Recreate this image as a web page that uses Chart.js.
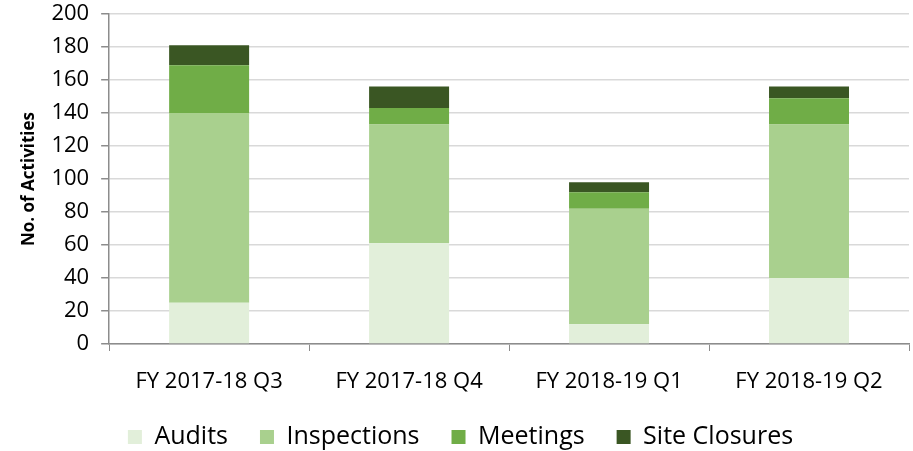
<!DOCTYPE html>
<html>
<head>
<meta charset="utf-8">
<script src="https://cdn.jsdelivr.net/npm/chart.js@4"></script>
<style>
  html, body { margin: 0; padding: 0; background: #fff; }
  #wrap { width: 913px; height: 451px; }
</style>
</head>
<body>
<div id="wrap"><canvas id="chart" width="913" height="451"></canvas></div>
<script>
// Quarters on the x axis
const quarters = ['FY 2017-18 Q3', 'FY 2017-18 Q4', 'FY 2018-19 Q1', 'FY 2018-19 Q2'];

// Stacked series (number of activities)
const audits = [25, 61, 12, 40];
const inspections = [115, 72, 70, 93];
const meetings = [29, 10, 10, 16];
const siteClosures = [12, 13, 6, 7];

// Y axis
const yMax = 200;
const yStep = 20;

const FONT = '"Open Sans", Lato, sans-serif';
const LEGEND_PAD = 32;
const LEGEND_HEIGHT = 58.5;
const X_AXIS_HEIGHT = 48.5;

// Fix the legend box height so it sits lower, like the original
const legendFit = {
    id: 'legendFit',
    beforeInit(chart) {
        const origFit = chart.legend.fit;
        chart.legend.fit = function () {
            origFit.call(this);
            this.height = LEGEND_HEIGHT;
        };
    }
};

const ctx = document.getElementById('chart').getContext('2d');

new Chart(ctx, {
    type: 'bar',
    data: {
        labels: quarters,
        datasets: [
            { label: 'Audits', data: audits, backgroundColor: '#e2efda' },
            { label: 'Inspections', data: inspections, backgroundColor: '#a9d08e' },
            { label: 'Meetings', data: meetings, backgroundColor: '#70ad47' },
            { label: 'Site Closures', data: siteClosures, backgroundColor: '#3a5623' }
        ]
    },
    plugins: [legendFit],
    options: {
        responsive: false,
        animation: false,
        datasets: {
            bar: {
                categoryPercentage: 1.0,
                barPercentage: 0.4,
                borderWidth: 0
            }
        },
        layout: {
            autoPadding: false,
            padding: { top: 14, right: 4, left: 12, bottom: 0 }
        },
        plugins: {
            legend: {
                display: true,
                position: 'bottom',
                labels: {
                    color: '#000000',
                    boxWidth: 14,
                    boxHeight: 14,
                    padding: LEGEND_PAD,
                    font: { family: FONT, size: 25 }
                }
            },
            tooltip: { enabled: false }
        },
        scales: {
            x: {
                stacked: true,
                afterFit(scale) {
                    scale.height = X_AXIS_HEIGHT;
                },
                grid: {
                    display: true,
                    drawOnChartArea: false,
                    drawTicks: true,
                    offset: true,
                    tickLength: 7,
                    tickColor: '#8c8c8c'
                },
                border: { display: true, color: '#8c8c8c', width: 1.5 },
                ticks: {
                    color: '#000000',
                    padding: 18,
                    font: { family: FONT, size: 22 }
                }
            },
            y: {
                stacked: true,
                min: 0,
                max: yMax,
                afterFit(scale) {
                    // let the layout padding alone decide where the plot starts
                    scale.paddingTop = 0;
                    scale.paddingBottom = 0;
                },
                ticks: {
                    stepSize: yStep,
                    color: '#000000',
                    padding: 12,
                    font: { family: FONT, size: 22 }
                },
                grid: {
                    color: '#d9d9d9',
                    lineWidth: 1.5,
                    tickLength: 8,
                    tickColor: '#8c8c8c'
                },
                border: { display: true, color: '#8c8c8c', width: 1.5 },
                title: {
                    display: true,
                    text: 'No. of Activities',
                    color: '#000000',
                    padding: { top: 7, bottom: 0 },
                    font: { family: FONT, size: 17, weight: 'bold' }
                }
            }
        }
    }
});
</script>
</body>
</html>
